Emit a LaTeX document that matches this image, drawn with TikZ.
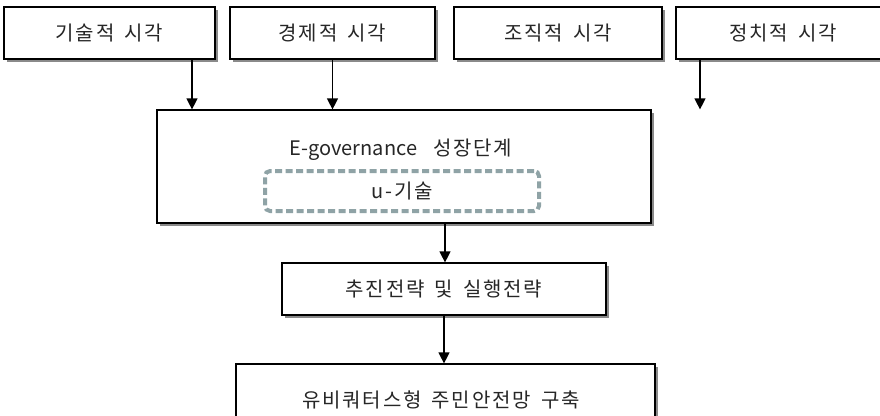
\documentclass[tikz,border=0pt]{standalone}
\usepackage{fontspec}
\newfontfamily\krfont[LetterSpace=9,WordSpace=1.6]{Noto Sans CJK KR}
\newfontfamily\latfont{Noto Sans CJK KR}
\usetikzlibrary{arrows.meta,shadows}
\definecolor{dashline}{HTML}{8FA3A6}
\definecolor{shadowgray}{HTML}{8A8A8A}
\tikzset{
  txt/.style={font=\krfont\fontsize{20}{24}\selectfont, text=black!85},
  box/.style={txt, draw=black, line width=1.2pt, fill=white, inner sep=0pt,
    drop shadow={shadow xshift=3pt, shadow yshift=-3pt, fill=shadowgray, opacity=1}},
  ubox/.style={txt, draw=dashline, line width=4pt, dash pattern=on 7pt off 3.5pt,
    rounded corners=5pt, inner sep=0pt},
  arr/.style={line width=1.2pt, -{Triangle[length=11pt,width=11pt]}}
}
\begin{document}
\begin{tikzpicture}[x=1pt,y=-1pt]
\useasboundingbox (0,0) rectangle (880,415);
\begin{scope}
\clip (0,0) rectangle (880,415);
% perspectives along the top
\node[box, minimum width=211pt, minimum height=52pt] (b1) at (109.5,33) {기술적 시각};
\node[box, minimum width=205pt, minimum height=52pt] (b2) at (332.5,33) {경제적 시각};
\node[box, minimum width=208pt, minimum height=52pt] (b3) at (558,33) {조직적 시각};
\node[box, minimum width=214pt, minimum height=52pt] (b4) at (783,33) {정치적 시각};
% growth stage block with the u-technology core
\node[box, minimum width=494pt, minimum height=113pt] (big) at (404,166.5) {};
\node[txt] (gtxt) at (401,150) {{\latfont E-governance}\hspace{16pt}성장단계};
\node[ubox, minimum width=274pt, minimum height=40pt] (u) at (402,191) {u-기술};
% strategy and outcome
\node[box, minimum width=324pt, minimum height=52pt] (strat) at (444,289) {추진전략 및 실행전략};
\node[box, minimum width=419pt, minimum height=72pt] (res) at (445.5,400) {};
\node[txt] (rtxt) at (441,400) {유비쿼터스형 주민안전망 구축};
% connectors
\draw[arr] ([xshift=82.5pt]b1.south) -- ([xshift=82.5pt]b1.south |- big.north);
\draw[arr] (b2.south) -- (b2.south |- big.north);
\draw[arr] ([xshift=-83pt]b4.south) -- ([xshift=-83pt]b4.south |- big.north);
\draw[arr] ([xshift=41pt]big.south) -- ([xshift=41pt]big.south |- strat.north);
\draw[arr] (strat.south) -- (strat.south |- res.north);
\end{scope}
\end{tikzpicture}
\end{document}
